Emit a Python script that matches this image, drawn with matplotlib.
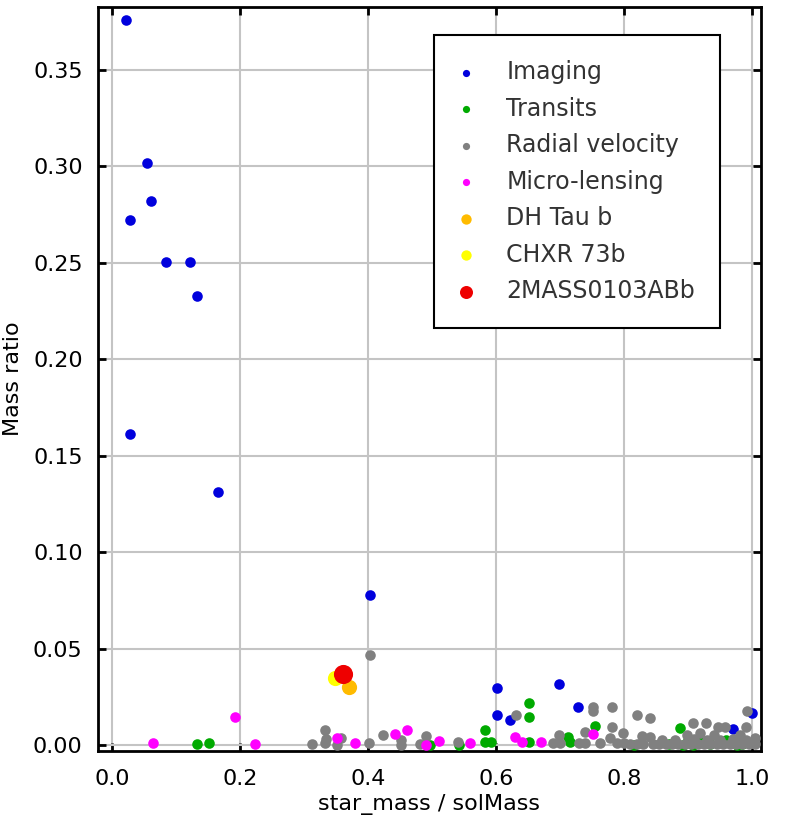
import numpy as np
import matplotlib
matplotlib.use("Agg")
import matplotlib.pyplot as plt

plt.rcParams['font.family'] = ['DejaVu Sans']

# Imaging
imaging_x = [0.021, 0.054, 0.060, 0.028, 0.084, 0.121, 0.132, 0.028, 0.165, 0.403,
             0.601, 0.601, 0.621, 0.698, 0.728, 1.000, 0.970]
imaging_y = [0.376, 0.3017, 0.282, 0.2725, 0.2505, 0.2505, 0.233, 0.1614, 0.1313, 0.078,
             0.0298, 0.0158, 0.0132, 0.0319, 0.0201, 0.0168, 0.0086]

# Transits
transit_x = [0.132, 0.151, 0.497, 0.542, 0.582, 0.582, 0.592, 0.651, 0.651, 0.651,
             0.713, 0.715, 0.754, 0.815, 0.888, 0.893, 0.908, 0.920, 0.935, 0.960,
             0.971, 0.976, 0.985, 0.870, 0.900]
transit_y = [0.0006, 0.0015, 0.0, 0.0, 0.008, 0.0017, 0.0017, 0.0219, 0.0146, 0.0017,
             0.0046, 0.002, 0.0103, 0.0, 0.0089, 0.0, 0.0, 0.002, 0.001, 0.003,
             0.002, 0.0, 0.001, 0.001, 0.003]

# Radial velocity
rv_x = [0.312, 0.333, 0.332, 0.334, 0.351, 0.358, 0.402, 0.403, 0.423, 0.451,
        0.451, 0.481, 0.490, 0.540, 0.631, 0.689, 0.699, 0.700, 0.729, 0.739,
        0.739, 0.751, 0.751, 0.762, 0.778, 0.781, 0.781, 0.789, 0.799, 0.800,
        0.810, 0.820, 0.820, 0.828, 0.830, 0.840, 0.841, 0.845, 0.855, 0.859,
        0.865, 0.875, 0.885, 0.895, 0.898, 0.905, 0.908, 0.915, 0.919, 0.925,
        0.929, 0.935, 0.940, 0.945, 0.947, 0.955, 0.958, 0.965, 0.975, 0.981,
        0.985, 0.991, 0.992, 0.995, 1.005, 1.005, 0.910, 0.930, 0.950, 0.970,
        0.990, 0.880]
rv_y = [0.001, 0.008, 0.0015, 0.0035, 0.0, 0.0037, 0.0015, 0.0469, 0.0054, 0.003,
        0.0, 0.001, 0.005, 0.0017, 0.0158, 0.0011, 0.0054, 0.0011, 0.0011, 0.0072,
        0.0011, 0.0198, 0.018, 0.0011, 0.0037, 0.0201, 0.0094, 0.0011, 0.0063, 0.0011,
        0.0008, 0.0158, 0.001, 0.005, 0.0008, 0.0144, 0.0046, 0.001, 0.0008, 0.0028,
        0.001, 0.0008, 0.001, 0.0008, 0.0054, 0.001, 0.0115, 0.0008, 0.0063, 0.001,
        0.0115, 0.0008, 0.0054, 0.001, 0.0094, 0.0008, 0.0094, 0.001, 0.0008, 0.0054,
        0.001, 0.0094, 0.0179, 0.0008, 0.0037, 0.001, 0.0035, 0.003, 0.003, 0.0035,
        0.003, 0.003]

# Micro-lensing
micro_x = [0.064, 0.191, 0.223, 0.351, 0.379, 0.442, 0.460, 0.490, 0.510, 0.559,
           0.630, 0.640, 0.670, 0.751]
micro_y = [0.0015, 0.0146, 0.0006, 0.0037, 0.0015, 0.006, 0.008, 0.0, 0.0025, 0.0011,
           0.0046, 0.002, 0.002, 0.006]

# named objects
dhtau = (0.370, 0.0305)
chxr = (0.348, 0.0348)
mass0103 = (0.360, 0.037)

fig = plt.figure(figsize=(7.85, 8.27), dpi=100)
ax = fig.add_axes([0.1248, 0.0923, 0.8446, 0.8992])

ax.scatter(imaging_x, imaging_y, s=58, color='#0000dd', linewidths=0, label='Imaging', zorder=3)
ax.scatter(transit_x, transit_y, s=58, color='#00aa00', linewidths=0, label='Transits', zorder=3)
ax.scatter(rv_x, rv_y, s=58, color='#808080', linewidths=0, label='Radial velocity', zorder=3)
ax.scatter(micro_x, micro_y, s=58, color='#ff00ff', linewidths=0, label='Micro-lensing', zorder=3)
ax.scatter([dhtau[0]], [dhtau[1]], s=120, color='#ffbb00', linewidths=0, label='DH Tau b', zorder=3)
ax.scatter([chxr[0]], [chxr[1]], s=120, color='#ffff00', linewidths=0, label='CHXR 73b', zorder=3)
ax.scatter([mass0103[0]], [mass0103[1]], s=190, color='#ee0000', linewidths=0, label='2MASS0103ABb', zorder=4)

ax.set_xlim(-0.0225, 1.0142)
ax.set_ylim(-0.0027, 0.3826)
ax.set_xticks(np.arange(0, 1.01, 0.2))
ax.set_yticks(np.arange(0, 0.351, 0.05))
ax.xaxis.set_major_formatter(matplotlib.ticker.FormatStrFormatter('%.1f'))
ax.yaxis.set_major_formatter(matplotlib.ticker.FormatStrFormatter('%.2f'))
ax.grid(True, color='#c4c4c4', linewidth=1.5)
ax.set_axisbelow(True)

for sp in ax.spines.values():
    sp.set_linewidth(2)
ax.tick_params(direction='in', length=6, width=2, top=True, right=True,
               labelsize=16)
ax.tick_params(axis='x', pad=13)
ax.tick_params(axis='y', pad=11)

ax.set_xlabel('star_mass / solMass', fontsize=16, labelpad=4)
ax.set_ylabel('Mass ratio', fontsize=16, labelpad=7)

leg = ax.legend(loc='upper right', bbox_to_anchor=(0.938, 0.962), borderaxespad=0,
                fontsize=17, markerscale=0.68, fancybox=False, framealpha=1,
                edgecolor='black', labelspacing=0.53, handletextpad=1.4,
                handlelength=0.6, borderpad=1.05, labelcolor='#333333')
leg.get_frame().set_linewidth(1.5)

fig.savefig('out.png', dpi=100)
